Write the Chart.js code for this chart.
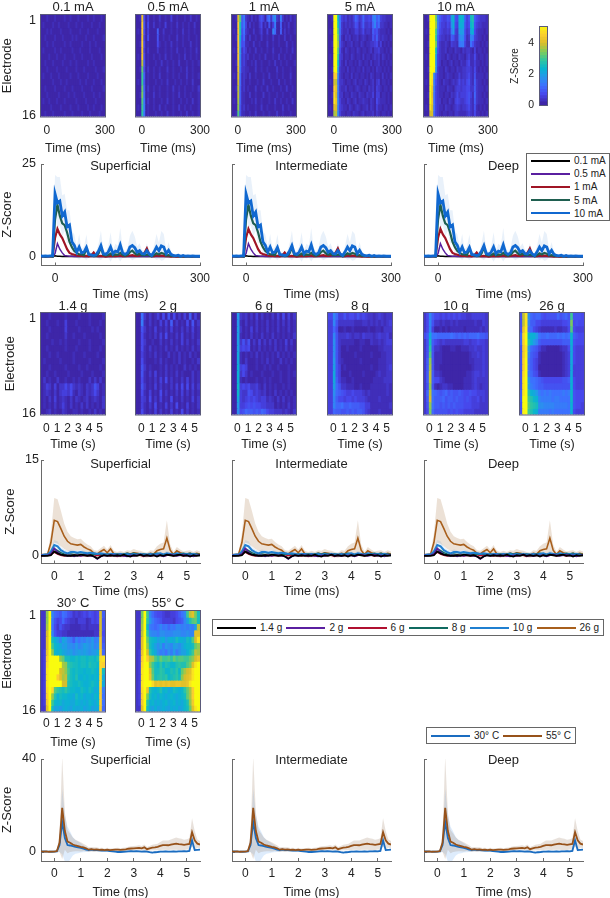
<!DOCTYPE html>
<html>
<head>
<meta charset="utf-8">
<title>Electrode responses</title>
<style>
html, body { margin: 0; background: #fff; }
body { position: relative; width: 610px; height: 898px; overflow: hidden; font-family: "Liberation Sans", Arial, sans-serif; color: #222; }
canvas { position: absolute; filter: blur(0.3px); }
.legend { position: absolute; box-sizing: border-box; background: #fff; border: 1px solid #666; display: flex; font-size: 10px; padding: 0 4px; white-space: nowrap; }
.legend.col { flex-direction: column; justify-content: space-around; }
.legend.row { flex-direction: row; justify-content: space-between; align-items: center; }
.legend .item { display: flex; align-items: center; }
.legend .swatch { flex: 0 0 39px; height: 2px; margin-right: 4px; }
</style>
<script src="https://cdn.jsdelivr.net/npm/chart.js@4"></script>
</head>
<body>
<script>
// heatmap rows: one string per electrode, one char per time bin, base 36, z-score = char / 7
const heat_01mA = ['000100010000100100010000100100010','010000100100001000100100001000100','000101000010000100001000100001000','001000010001000010100001000100001','000100100000100100000100010010000','010000010010000010001000010000100','000010001000100001000100001000010','001000100001000100100000100100000','000100001000010000100010000010001','010001000100000100010000100001000','000000100010010000001001000100010','001000010000100010000100001000001','000100000100001001000010000100100','010010001000100000100001000010000','000001000010000100010000100100010','001000100000100010000100010000100'];
const heat_05mA = ['001t40300100200100300100010020010','000v50400200100300100200100100200','010v40300006002000100100200100100','000u30400005001001000200100100010','001v40100004100100200100100020010','000u30200002000100100200010010020','010u40100100100200100010020010010','000q50100010020010010020001001001','001m40200100100020010001002001000','000k60100100200010010010002001001','010k50100010010020001001001002000','000m60200100100010020010010001002','001n70100200100010010020010010001','000l80200100010020010001001002001','010k90100100200100010020010010001','000j80100010010020010001002001001'];
const heat_1mA = ['001sl69210201035306829b2192010201','000vh6930201002402050390060102001','010vh5821002001300300a70060201001','001ve4710200100200100200100200100','000vb4511002001000200100100020010','010vb2420100200100100200010010020','000va2312001001002000100200100100','001u92310010200100010020010010001','000t82211000200100100002001000100','010s71210200100010020001001000200','000r71200100010020001000200100100','001q61201000200100200100010020010','000q61100200100020010001001000100','010p61100010200100010020010010020','000o51201000100200100010002001000','001l51100100200010010002001000100'];
const heat_5mA = ['001zzg832312137523733439a68322111','000zzh821212125413622327a57221101','010zzk721120113312412216452111010','000zzm610212011201210115362121101','001zzo521011201102101122341301010','000zzl410210110210110120223110101','010zzj320110210110201101212021010','000zzg310201101021011020112010101','001zzc211020110110201101021101010','000vva210110201101101021011020101','010rq8221011012011021012023011010','000vs9211201101210110212032101101','001wr9220110211021102113033011010','000xta311021012011211021042111010','010sr9321102101210112021031101101','000pqa311011021101201112021011010'];
const heat_10mA = ['001zzzm9643354dg54fgf635hi6432221','000zzzo9533243bf43efe534gh5322111','010zzzk84322329c32cdc423ef4211101','000zzzj632212165229ba412a93211010','001zzzm52112103221899311852110101','000zzzg42112011021102122103011010','010zzzd32110210110211023114101101','000zzzb32011012011021134113110101','001zzyb21102101102112233214101010','000zxa521101211011312234215111101','010zw9421021101212423245216211010','000zt9321110211023323344226211101','001zs8321101102124233345317211010','000zt8322011021034322345216211101','010xr8321102110123212234215101010','000rr7321011011022111123214110101'];

const heat_14g = ['000100000100001000100001','001000100300010000100010','000100000300001000010100','001000000200100010000010','000010010100001000100001','001000000100010000100010','000100100000100010000100','010000010000100000100001','000100000100001001000010','001001000010000100010001','020100200100101000202020','013203022424212102125301','012102023324102102124201','010203012102021012012102','010102013102010202010102','001201002100110100102010'];
const heat_2g = ['008202013040504020306030','009102010303060201040502','005201030102030102020301','004101020304010203010201','004200100201020103020102','004102010102010201010201','003101020100201020102010','004100010201001020100102','005201000102010100201010','005102030102010201000201','004101020304020102030201','005201030201020304040302','004103010402010203020201','003204020301040102010302','003102040103020401030102','004101030201030104020101'];
const heat_6g = ['00c212020302010203040302','00c102010201020102020201','00d201030201020102010201','00d101020102010201010102','00d252502030202020103020','00d343401020101020102010','00e101010201010102010101','00e102000101020100201010','00f343000100101001000100','00f242010001000100100101','00f101000100101000100100','00g343422310201010010100','00g322542321201020101010','00e323434323312102020101','00c334545443322201010201','00b457665657643322212102'];
const heat_8g = ['44a733534435343221232122','33a522222211122121212123','337400100100000100110222','33a522232122132221232231','33b521111100110021121233','33b520010000100000011222','33b520000010000010001122','33c521000000100000011122','33d530100000000010011123','33e530001000010000121122','33e631100100000001111222','33d752211100100011111121','33b765433433321211111121','33a644344343332111121111','33a778667666553311111112','337665565656653211121111'];
const heat_10g = ['24a644343434343322333332','24a522121121211111121132','24a300101011111011111212','46e887777787676767778665','25h643232222222332334332','25j522100011001112232232','25l511100000000001223232','26o511100000000001122232','26p511000000000000122232','26q622100000000011233232','26q644210000000111232222','25o510122110000111232122','27q876567565565445443332','26r866675665655454334232','25o866565656555444333222','24n755555454544333322222'];
const heat_26g = ['5qxb767754555575675k5554','5qxa664433333333445n4544','5ty8743211111211224l4333','7wzgffc877877787878g6544','7vzifca655555555666f5444','5uxc765311000001224e4333','5uya654100000000123e4333','5vz8643100000000123e4333','5vz8643000000000123e3333','5wz9754100000000123e3333','5xzc887654444444556f4333','5xzc987665555555555f4333','6xzifec989898888989g5444','6zzkigfa99998998888g5444','5zzljihbbaaaa999998f5443','5yzkigf999989888888f4333'];

const heat_30C = ['22oza76587542323435434r6','22oz953474322133312434r5','22pz842532211112212222r5','22rza53322111111111122r4','22szhfdaeca96a8a9bac9at5','22szkgfecdbbacabdcbcabt6','23tzogfgedcdbcdcdcbcceu7','23vzzzzomhhgghghhghhgiwx','23wzzzzzpojihhghhgihhgwv','23xzzzzrqokhghggfgghgfwh','23xzzzvspqjhgiffgfgfgfwe','23xzzzzzrrihgghgffghgfwe','23wzwljihjhggffhgfhgefv9','23vzoifhggffehfgeffegfv8','23uzkgfgeffeegfefegfegv8','22szhdecefedfeefdefdeeu7'];
const heat_55C = ['22nzka754432233468akqsnh','22ozjc976533332456adilmh','22pzg9878a89798aa9a9a9dq','22qzjbaa9bbaaabbbaabaass','22szmhgfdefcefehffehglrx','22szohfdbd9cbadcbdfgghmo','23tzrjgeb9a8b9c9bddfhkqp','23vzvqpljmkkljmkllkkmort','23wzzokhgjgihggijiilnsxz','23xzzslhhjiggihjgmprsxzz','23xzztmhijijghijhorstxzz','23xzzzwstststssttsstxzzz','23wztigfgifgefhgfgjmpvzz','23vznhfgegfefgfefghmpvzz','23uzjfgefefgefgefegiouzz','22szhedfdefedfefdeghmsxz'];

// heatmap bin centres
const binsMs = [-25,-15,-5,5,15,25,35,45,55,65,75,85,95,105,115,125,135,145,155,165,175,185,195,205,215,225,235,245,255,265,275,285,295];
const binsS = [-0.375,-0.125,0.125,0.375,0.625,0.875,1.125,1.375,1.625,1.875,2.125,2.375,2.625,2.875,3.125,3.375,3.625,3.875,4.125,4.375,4.625,4.875,5.125,5.375];

// electrical stimulation means (z-score), every 5 ms from -30 to 300 ms
const timeMs = [-30,-25,-20,-15,-10,-5,0,5,10,15,20,25,30,35,40,45,50,55,60,65,70,75,80,85,90,95,100,105,110,115,120,125,130,135,140,145,150,155,160,165,170,175,180,185,190,195,200,205,210,215,220,225,230,235,240,245,250,255,260,265,270,275,280,285,290,295,300];
const amp_10mA = [0.2,0.1,0.2,0.1,0.2,0.2,17,14.5,15,11,12,8,8.5,4,3,1.2,2.6,1,1.2,2.5,0.6,0.5,0.3,0.5,1.5,3,0.8,0.6,1.2,2.6,0.8,1.5,1.3,3.2,1,0.6,1,2.6,3,2.4,1.2,1.6,0.8,0.7,1.6,0.7,0.3,1.3,2.6,1.6,2.9,2.6,0.8,1.7,0.6,0.3,0.2,0.4,0.1,0.3,0.1,0.2,0.1,0.2,0.1,0.1,0.1];
const amp_5mA = [0.1,0.1,0,0.1,0.1,0,10,14,11,9,8.5,6.5,4,2.5,1.5,1,0.6,0.6,0.4,2.2,0.4,0.3,0.1,0.2,0.8,2.5,0.4,0.3,0.4,0.8,0.3,0.6,0.5,1,0.4,0.2,0.5,1.2,1.6,0.9,0.5,0.8,0.3,0.3,0.5,0.3,0.1,0.4,0.9,0.6,1,0.8,0.3,0.4,0.2,0.1,0.1,0.1,0,0.1,0,0.1,0,0.1,0,0.1,0];
const amp_1mA = [0,0.1,0,0,0.1,0,5,7.5,6,5,3.5,2,1,0.7,0.5,0.3,0.2,0.2,0.1,0.2,0.1,0.4,1.1,0.2,0.1,0.2,0.1,0,0.1,0.2,0.1,0.1,0.2,0.3,0.1,0.1,0.2,0.3,0.4,0.2,0.2,0.3,0.5,1,2.2,0.5,0.1,0.1,0.3,0.2,0.3,0.2,0.1,0.1,0,0.1,0,0,0.1,0,0,0.1,0,0,0.1,0,0];
const amp_05mA = [0,0,0.1,0,0,0.1,0.8,3.5,2,1,0.3,0.2,0.1,0.1,0,0.1,0,0.1,0,0.1,0,0,0.1,0,0,0.1,0,0.1,0,0,0.1,0,0,0.1,0,0,0.1,0,0.1,0,0,0.1,0,0,0.1,0,0,0.1,0,0.1,0,0,0.1,0,0,0.1,0,0,0.1,0,0,0,0.1,0,0,0,0];
const amp_01mA = [0,0,0,0.1,0,0,0.2,0.1,0.1,0,0.1,0,0,0.1,0,0,0,0.1,0,0,0,0,0.1,0,0,0,0.1,0,0,0,0,0.1,0,0,0,0,0.1,0,0,0,0.1,0,0,0,0,0,0.1,0,0,0,0,0.1,0,0,0,0,0,0.1,0,0,0,0,0,0,0.1,0,0];
const sd_10mA = [0.2,0.2,0.2,0.2,0.2,0.2,5,7,6.5,5.5,5,4.5,4,3,3,1.5,3.5,1,1.5,3.5,0.8,0.6,0.5,0.6,2,4,1,0.8,1.5,4,1,2,1.6,4.5,1.3,0.8,1.3,3,4,3,1.5,2,1,0.9,2,0.9,0.5,1.6,3.5,2.2,4,3.5,1,2.2,0.8,0.4,0.3,0.5,0.2,0.3,0.2,0.2,0.2,0.2,0.2,0.2,0.2];

// mechanical stimulation means, every 0.125 s from -0.5 to 5.5 s
const timeForce = [-0.5,-0.375,-0.25,-0.125,0,0.125,0.25,0.375,0.5,0.625,0.75,0.875,1,1.125,1.25,1.375,1.5,1.625,1.75,1.875,2,2.125,2.25,2.375,2.5,2.625,2.75,2.875,3,3.125,3.25,3.375,3.5,3.625,3.75,3.875,4,4.125,4.25,4.375,4.5,4.625,4.75,4.875,5,5.125,5.25,5.375,5.5];
const force_26g = [0.1,0.1,0.2,2,5.5,5.3,4.2,3,2.2,1.8,1.7,1.6,1.7,1.3,1,0.8,0.3,0.2,0.6,0.9,0.4,1,0.2,0.1,0.2,0.1,0.3,0.2,0.4,0.3,0.2,0.1,0,0.3,0.2,0.7,0.9,1,2.7,0.8,0.1,0.7,0.4,0.2,0.2,0.3,0.1,0.3,0.2];
const force_10g = [0,0.1,0.1,0.6,1.6,1.4,0.8,0.5,0.3,0.5,0.5,0.4,0.5,0.4,0.3,0.4,0.3,0.2,0.3,0.2,0.1,0.2,0.2,0.1,0.2,0.1,0.2,0.1,0.2,0.1,0.2,0.1,0.1,0.2,0.1,0.2,0.3,0.1,0.3,0.2,0.1,0.3,0.2,0.1,0.2,0.1,0.2,0.1,0];
const force_8g = [0,0,0.1,0.3,1,0.7,0.4,0.2,0.1,0.2,0.1,0.2,0.1,0.2,0.1,0.1,0.2,0.1,0.2,0.1,0.2,0.1,0.1,0.2,0.1,0.2,0.3,0.2,0.3,0.2,0.1,0.2,0.1,0.1,0.2,0.3,0.2,0.1,0.2,0.1,0.2,0.1,0.2,0.3,0.2,0.3,0.1,0.2,0.1];
const force_6g = [-0.1,0,0,0.1,0.5,0.2,0,-0.1,0,-0.1,0,0,-0.1,0,-0.1,0,-0.2,0,-0.1,0,0,-0.1,0,-0.2,0,-0.1,0,0.1,-0.1,0,0,-0.2,0,-0.1,0,0.1,0,-0.1,0,0.1,-0.1,0,0,-0.1,0,0.1,-0.1,0,0];
const force_2g = [0,-0.1,0,0.2,1.1,0.5,0.1,0,-0.1,0,-0.2,0,-0.1,0,0,-0.1,-0.2,-0.6,-0.2,0,-0.1,0,0,-0.1,0,-0.1,-0.2,0,-0.1,0,0.1,-0.1,0,-0.1,0,-0.1,0,-0.2,0,0.1,0,-0.1,0,0.1,-0.1,0,-0.2,0,0];
const force_14g = [-0.1,-0.1,-0.1,0,0.6,0.3,0.1,0,-0.1,-0.1,0,-0.1,0.1,0,-0.1,0,-0.2,-0.5,-0.2,0,-0.1,0,-0.1,0,-0.1,0.1,-0.1,-0.2,0,-0.1,0.1,-0.1,0,-0.1,0,-0.2,0,-0.1,0.1,0,-0.1,0,0.1,-0.1,0,-0.2,0,-0.1,0];
const sd_26g = [0.1,0.1,0.2,1.5,3.5,3.5,2.8,2,1.5,1.2,1,0.9,0.9,0.8,0.7,0.6,0.5,0.5,0.5,0.6,0.5,0.6,0.5,0.4,0.5,0.4,0.5,0.5,0.6,0.5,0.5,0.4,0.4,0.5,0.5,0.7,0.9,1,2.8,0.9,0.4,0.6,0.5,0.4,0.5,0.5,0.4,0.5,0.4];
const sd_10g = [0.1,0.1,0.1,0.3,0.8,0.8,0.5,0.4,0.4,0.4,0.3,0.3,0.3,0.3,0.3,0.3,0.3,0.3,0.3,0.3,0.3,0.3,0.3,0.3,0.3,0.3,0.3,0.3,0.3,0.3,0.3,0.3,0.3,0.3,0.3,0.3,0.3,0.3,0.4,0.3,0.3,0.4,0.4,0.3,0.3,0.4,0.3,0.3,0.3];

// thermal stimulation means, every 0.1 s from -0.5 to 5.5 s
const timeTemp = [-0.5,-0.4,-0.3,-0.2,-0.1,0,0.1,0.2,0.3,0.4,0.5,0.6,0.7,0.8,0.9,1,1.1,1.2,1.3,1.4,1.5,1.6,1.7,1.8,1.9,2,2.1,2.2,2.3,2.4,2.5,2.6,2.7,2.8,2.9,3,3.1,3.2,3.3,3.4,3.5,3.6,3.7,3.8,3.9,4,4.1,4.2,4.3,4.4,4.5,4.6,4.7,4.8,4.9,5,5.1,5.2,5.3,5.4,5.5];
const temp_55C = [0.3,0.2,0.3,0.1,0.2,0.2,0.4,4,19,9,4.5,4,3.2,2.8,2.5,2.2,2,1.6,1,1.2,1,1.1,0.9,1,0.8,1,0.8,0.9,1,1,0.9,1,1.1,1.4,1.5,1.6,1.7,1.8,1.6,2,1.2,1.6,1.9,2,2.2,2.6,3,3,2.9,3.2,3.4,3.6,3.4,3.3,3.1,3.3,3.5,8.5,5,3.6,3.2];
const temp_30C = [0.2,0.3,0.2,0.2,0.1,0.2,0.3,3,13,6,3,2.8,2.5,2.2,2,1.8,1.4,1,0.8,1,0.8,0.8,0.7,0.6,0.6,0.6,0.4,0.3,0.2,0,0,0.1,0.2,0.3,0.4,0.3,0.4,0.3,0.2,0.3,0.2,-0.1,-0.3,-0.1,0,0.2,0.2,0.3,0.2,0.2,0.3,0.2,0.3,0.3,0.4,0.3,0.5,5,0.8,0.9,1];
const sd_55C = [0.2,0.2,0.2,0.2,0.2,0.3,0.5,4,22,8,5,4,3,2.5,2.2,2,1.6,1.3,1,1,1,0.9,0.8,0.8,0.7,0.8,0.7,0.7,0.7,0.8,0.7,0.8,0.8,0.9,1,1,1,1.1,1,1.2,0.9,1,1.2,1.3,1.4,1.7,2,2,2,2.2,2.4,2.6,2.5,2.4,2.2,2.2,2.4,6,4,1.8,1.5];
const sd_30C = [0.2,0.2,0.2,0.2,0.2,0.2,0.4,3,14,10,8,6,4,3,2.5,2,1.5,1,0.8,0.7,0.6,0.6,0.5,0.5,0.5,0.5,0.4,0.4,0.4,0.4,0.4,0.4,0.4,0.4,0.4,0.4,0.4,0.4,0.4,0.4,0.4,0.4,0.4,0.4,0.4,0.4,0.4,0.4,0.4,0.4,0.4,0.4,0.4,0.4,0.4,0.4,0.4,2.5,0.6,0.4,0.4];

// labels
const ampLabels = ['0.1 mA', '0.5 mA', '1 mA', '5 mA', '10 mA'];
const forceLabels = ['1.4 g', '2 g', '6 g', '8 g', '10 g', '26 g'];
const tempLabels = ['30° C', '55° C'];
const depthLabels = ['Superficial', 'Intermediate', 'Deep'];
const ampColors = ['#000000', '#5a1fa0', '#a01525', '#1f5f50', '#1068d0'];
const forceColors = ['#000000', '#5a1fa0', '#b01030', '#0f6a60', '#1f7fd0', '#a85f1c'];
const tempColors = ['#1a6cc0', '#97521a'];
const parula = ['#3E26A8', '#4747EB', '#3E6FFF', '#2796EB', '#08B4D0', '#31C69F', '#80CC59', '#DCBD29', '#FCCF30', '#F9FB0E'];
const colorbarLevels = [0,0.2,0.4,0.6,0.8,1,1.2,1.4,1.6,1.8,2,2.2,2.4,2.6,2.8,3,3.2,3.4,3.6,3.8,4,4.2,4.4,4.6,4.8,5];

Chart.defaults.font.family = '"Liberation Sans", Arial, sans-serif';
Chart.defaults.color = '#222';
Chart.defaults.animation = false;

const textColor = '#222';
const axisColor = '#6a6a6a';

function hexRgb(h) {
    return [1, 3, 5].map(i => parseInt(h.substr(i, 2), 16));
}

function zColor(z) {
    const t = Math.min(Math.max(z / 5, 0), 1) * (parula.length - 1);
    const i = Math.min(Math.floor(t), parula.length - 2);
    const a = hexRgb(parula[i]), b = hexRgb(parula[i + 1]);
    const c = a.map((v, k) => Math.round(v + (b[k] - v) * (t - i)));
    return `rgb(${c[0]},${c[1]},${c[2]})`;
}

// canvas laid out so the plot area lands on x,y,w,h
const marginLeft = 41, marginRight = 14;
function makeCanvas(x, y, w, h, top, bottom) {
    const c = document.createElement('canvas');
    c.width = w + marginLeft + marginRight;
    c.height = h + top + bottom;
    c.style.left = (x - marginLeft) + 'px';
    c.style.top = (y - top) + 'px';
    document.body.appendChild(c);
    return c.getContext('2d');
}

function titleOptions(text, top, dist) {
    return {
        display: true, text: text, fullSize: false, color: textColor,
        font: { size: 13, weight: 'normal', lineHeight: 1 },
        padding: { top: top - dist - 6.5, bottom: dist - 6.5 }
    };
}

function xAxis(o) {
    return {
        type: 'linear', min: o.min, max: o.max, offset: false, stacked: o.stacked,
        grid: o.marks ? { drawOnChartArea: false, tickLength: -3, color: axisColor, offset: false } : { display: false, drawTicks: false, offset: false },
        border: { display: !!o.marks, color: axisColor },
        ticks: {
            font: { size: 12, lineHeight: 1 }, color: textColor, padding: o.pad + (o.marks ? 3 : 0),
            autoSkip: false, maxRotation: 0, minRotation: 0, callback: (v, i) => String(o.ticks[i])
        },
        title: { display: true, text: o.title, color: textColor, font: { size: 12.5, lineHeight: 1 }, padding: 0 },
        afterBuildTicks: s => { s.ticks = o.ticks.map(value => ({ value })); },
        afterFit: s => { s.height = o.height; s.paddingLeft = 0; s.paddingRight = 0; }
    };
}

function yAxis(o) {
    const labels = o.labels || [];
    return {
        type: 'linear', min: o.min, max: o.max, reverse: !!o.reverse, stacked: o.stacked,
        grid: o.marks ? { drawOnChartArea: false, tickLength: -3, color: axisColor } : { display: false, drawTicks: false },
        border: { display: !!o.marks, color: axisColor },
        ticks: {
            display: !!o.labels, font: { size: o.size || 12.5, lineHeight: 1 }, color: textColor,
            padding: o.pad + (o.marks ? 3 : 0), autoSkip: false, callback: (v, i) => String(labels[i])
        },
        title: { display: !!o.title, text: o.title, color: textColor, font: { size: o.titleSize || 13, lineHeight: 1 }, padding: { top: o.titlePad || 0, bottom: 0 } },
        afterBuildTicks: s => { s.ticks = o.ticks.map(value => ({ value })); },
        afterFit: s => { s.width = marginLeft; s.paddingTop = 0; s.paddingBottom = 0; }
    };
}

const boxFrame = {
    id: 'boxFrame',
    afterDraw(chart) {
        const a = chart.chartArea, ctx = chart.ctx;
        ctx.save();
        ctx.strokeStyle = '#5a5a7a';
        ctx.lineWidth = 1;
        ctx.strokeRect(a.left - 0.5, a.top - 0.5, a.right - a.left + 1, a.bottom - a.top + 1);
        ctx.restore();
    }
};

function heatmap(o) {
    const w = 64, h = o.h || 102, top = 15;
    const ctx = makeCanvas(o.x, o.y, w, h, top, o.axisH);
    const datasets = o.rows.map(row => {
        const z = Array.from(row).map(ch => parseInt(ch, 36) / 7);
        return {
            data: o.bins.map(t => ({ x: t, y: 1 })),
            backgroundColor: o.bins.map((t, i) => zColor(z[i] || 0)),
            barPercentage: 1, categoryPercentage: 1, inflateAmount: 0.5, borderWidth: 0
        };
    });
    new Chart(ctx, {
        type: 'bar',
        data: { datasets },
        options: {
            responsive: false, events: [],
            layout: { padding: { right: marginRight } },
            plugins: { legend: { display: false }, tooltip: { enabled: false }, title: titleOptions(o.title, top, o.titleDist) },
            scales: {
                x: xAxis({ min: o.min, max: o.max, ticks: o.ticks, title: o.xTitle, pad: o.tickPad, height: o.axisH, stacked: true }),
                y: yAxis({
                    min: 0, max: 16, reverse: true, stacked: true, pad: 5, ticks: [0.8, 15.9],
                    labels: o.first ? ['1', '16'] : null, title: o.first ? 'Electrode' : null, titlePad: o.titlePad
                })
            }
        },
        plugins: [boxFrame]
    });
}

function lineDataset(times, values, color, width, order) {
    return {
        data: times.map((t, i) => ({ x: t, y: values[i] })), borderColor: color, borderWidth: width,
        pointRadius: 0, tension: 0, fill: false, order: order
    };
}

function bandDatasets(times, mean, sd, color) {
    const common = { pointRadius: 0, borderWidth: 0, tension: 0, order: 50, backgroundColor: color };
    return [
        Object.assign({ data: times.map((t, i) => ({ x: t, y: mean[i] + sd[i] })), fill: '+1' }, common),
        Object.assign({ data: times.map((t, i) => ({ x: t, y: mean[i] - sd[i] })), fill: false }, common)
    ];
}

function linePanel(o) {
    const w = o.w, h = o.h, top = 10;
    const ctx = makeCanvas(o.x, o.y, w, h, top, o.axisH);
    new Chart(ctx, {
        type: 'line',
        data: { datasets: o.datasets },
        options: {
            responsive: false, events: [],
            layout: { padding: { right: marginRight } },
            plugins: { legend: { display: false }, tooltip: { enabled: false }, title: titleOptions(o.title, top, o.titleDist) },
            scales: {
                x: xAxis({ min: o.xMin, max: o.xMax, ticks: o.xTicks, title: o.xTitle, pad: 7, height: o.axisH, marks: true }),
                y: yAxis({
                    min: o.yMin, max: o.yMax, ticks: o.yTicks, labels: o.first ? o.yTicks : null, pad: o.yPad,
                    marks: true, title: o.first ? 'Z-Score' : null, titlePad: o.titlePad
                })
            }
        }
    });
}

function addLegend(labels, colors, cls, left, top, width, height) {
    const box = document.createElement('div');
    box.className = 'legend ' + cls;
    box.style.cssText = `left:${left}px;top:${top}px;width:${width}px;height:${height}px`;
    labels.forEach((label, i) => {
        const item = document.createElement('div');
        item.className = 'item';
        const swatch = document.createElement('div');
        swatch.className = 'swatch';
        swatch.style.background = colors[i];
        const text = document.createElement('span');
        text.textContent = label;
        item.append(swatch, text);
        box.appendChild(item);
    });
    document.body.appendChild(box);
}

// row 1: electrical heatmaps
const ampHeat = [heat_01mA, heat_05mA, heat_1mA, heat_5mA, heat_10mA];
const heatLeft = [41, 136, 232, 328, 424, 520];
ampHeat.forEach((rows, i) => heatmap({
    title: ampLabels[i], rows, bins: binsMs, min: -30, max: 300, ticks: [0, 300], xTitle: 'Time (ms)',
    x: heatLeft[i], y: 15, axisH: 38.5, titleDist: 8, tickPad: 8, first: i === 0, titlePad: 1
}));

// colorbar
new Chart(makeCanvas(540, 27, 7, 78, 6, 6), {
    type: 'bar',
    data: {
        labels: ['z'],
        datasets: colorbarLevels.map(z => ({
            data: [[z, z + 0.2]], backgroundColor: zColor(z), barPercentage: 1, categoryPercentage: 1, inflateAmount: 0.5, borderWidth: 0, grouped: false
        }))
    },
    options: {
        responsive: false, events: [],
        layout: { padding: { top: 6, bottom: 6, right: marginRight } },
        plugins: { legend: { display: false }, tooltip: { enabled: false } },
        scales: {
            x: { display: false },
            y: yAxis({ min: 0, max: 5.06, ticks: [0, 2, 4], labels: [0, 2, 4], pad: 6, size: 10.5, title: 'Z-Score', titleSize: 10, titlePad: 11 })
        }
    },
    plugins: [boxFrame]
});

// row 3: mechanical heatmaps
const forceHeat = [heat_14g, heat_2g, heat_6g, heat_8g, heat_10g, heat_26g];
forceHeat.forEach((rows, i) => heatmap({
    title: forceLabels[i], rows, bins: binsS, min: -0.5, max: 5.5, ticks: [0, 1, 2, 3, 4, 5], xTitle: 'Time (s)',
    x: heatLeft[i], y: 313, axisH: 36.5, titleDist: 7, tickPad: 8, first: i === 0, titlePad: 4
}));

// row 5: thermal heatmaps
[heat_30C, heat_55C].forEach((rows, i) => heatmap({
    title: tempLabels[i], rows, bins: binsS, min: -0.5, max: 5.5, ticks: [0, 1, 2, 3, 4, 5], xTitle: 'Time (s)',
    x: heatLeft[i], y: 611, h: 101, axisH: 37.5, titleDist: 8, tickPad: 6, first: i === 0, titlePad: 1
}));

// line panels, the three depths share the same curves in the figure
const lineLeft = [41, 232, 424];
depthLabels.forEach((label, i) => {
    linePanel({
        title: label, x: lineLeft[i], y: 164, w: 159, h: 102, axisH: 35.5, titleDist: -2, first: i === 0, titlePad: 0.5,
        xMin: -29, xMax: 300, xTicks: [0, 300], xTitle: 'Time (ms)', yMin: -2.4, yMax: 25, yTicks: [0, 25], yPad: 5,
        datasets: [
            ...bandDatasets(timeMs, amp_10mA, sd_10mA, 'rgba(40,120,210,0.10)'),
            lineDataset(timeMs, amp_01mA, ampColors[0], 1.5, 4),
            lineDataset(timeMs, amp_05mA, ampColors[1], 1.5, 3),
            lineDataset(timeMs, amp_1mA, ampColors[2], 2.2, 2),
            lineDataset(timeMs, amp_5mA, ampColors[3], 2.2, 1),
            lineDataset(timeMs, amp_10mA, ampColors[4], 2.8, 0)
        ]
    });
    linePanel({
        title: label, x: lineLeft[i], y: 460, w: 159, h: 104, axisH: 34.5, titleDist: -4, first: i === 0, titlePad: 4,
        xMin: -0.5, xMax: 5.5, xTicks: [0, 1, 2, 3, 4, 5], xTitle: 'Time (ms)', yMin: -1.3, yMax: 15, yTicks: [0, 15], yPad: 2,
        datasets: [
            ...bandDatasets(timeForce, force_26g, sd_26g, 'rgba(170,120,70,0.22)'),
            ...bandDatasets(timeForce, force_10g, sd_10g, 'rgba(60,140,230,0.15)'),
            lineDataset(timeForce, force_14g, forceColors[0], 1.8, 0),
            lineDataset(timeForce, force_2g, forceColors[1], 1.6, 1),
            lineDataset(timeForce, force_6g, forceColors[2], 1.6, 3),
            lineDataset(timeForce, force_8g, forceColors[3], 1.6, 4),
            lineDataset(timeForce, force_10g, forceColors[4], 2, 2),
            lineDataset(timeForce, force_26g, forceColors[5], 1.6, 5)
        ]
    });
    linePanel({
        title: label, x: lineLeft[i], y: 759, w: 159, h: 102, axisH: 38, titleDist: -1, first: i === 0, titlePad: 0.5,
        xMin: -0.5, xMax: 5.5, xTicks: [0, 1, 2, 3, 4, 5], xTitle: 'Time (ms)', yMin: -3.87, yMax: 40, yTicks: [0, 40], yPad: 5,
        datasets: [
            ...bandDatasets(timeTemp, temp_55C, sd_55C, 'rgba(150,120,90,0.22)'),
            ...bandDatasets(timeTemp, temp_30C, sd_30C, 'rgba(70,150,240,0.18)'),
            lineDataset(timeTemp, temp_55C, tempColors[1], 1.8, 0),
            lineDataset(timeTemp, temp_30C, tempColors[0], 1.8, 1)
        ]
    });
});

addLegend(ampLabels, ampColors, 'col', 526, 153, 84, 68);
addLegend(forceLabels, forceColors, 'row', 212, 619, 392, 17);
addLegend(tempLabels, tempColors, 'row', 426, 727, 150, 17);
</script>
</body>
</html>
